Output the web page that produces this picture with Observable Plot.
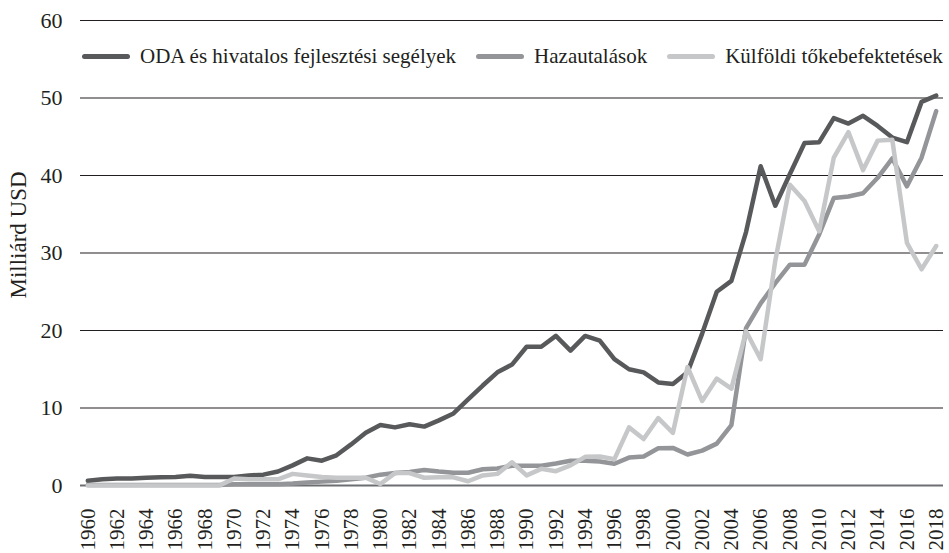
<!DOCTYPE html>
<html><head><meta charset="utf-8">
<script src="https://cdn.jsdelivr.net/npm/d3@7"></script>
<script src="https://cdn.jsdelivr.net/npm/@observablehq/plot@0.6"></script>
<style>
body{margin:0;background:#fff;}
#wrap{position:relative;width:949px;height:553px;overflow:hidden;font-family:"Liberation Serif","Times New Roman",serif;color:#231f20;}
#legend{position:absolute;left:82px;top:44px;display:flex;align-items:center;font-size:21px;line-height:24px;white-space:nowrap;}
.item{display:flex;align-items:center;margin-right:20px}
.sw{display:inline-block;width:48px;height:5px;border-radius:3px;margin-right:10px}
#ylab{position:absolute;left:19px;top:235px;font-size:23px;line-height:24px;white-space:nowrap;transform:translate(-50%,-50%) rotate(-90deg);}
</style></head><body><div id="wrap"><div id="legend"></div><div id="ylab"></div></div>
<script>
const years = [1960,1961,1962,1963,1964,1965,1966,1967,1968,1969,
  1970,1971,1972,1973,1974,1975,1976,1977,1978,1979,
  1980,1981,1982,1983,1984,1985,1986,1987,1988,1989,
  1990,1991,1992,1993,1994,1995,1996,1997,1998,1999,
  2000,2001,2002,2003,2004,2005,2006,2007,2008,2009,
  2010,2011,2012,2013,2014,2015,2016,2017,2018];
const oda = [0.6,0.8,0.9,0.9,1.0,1.05,1.1,1.25,1.1,1.1,
  1.1,1.3,1.4,1.8,2.6,3.5,3.2,3.9,5.3,6.8,
  7.8,7.5,7.9,7.6,8.4,9.3,11.1,12.9,14.6,15.6,
  17.9,17.9,19.3,17.4,19.3,18.7,16.3,15.0,14.6,13.3,
  13.1,14.6,19.6,25.0,26.4,32.7,41.2,36.1,40.2,44.2,
  44.3,47.4,46.7,47.7,46.4,44.9,44.3,49.5,50.3];
const remit = [0.05,0.05,0.05,0.05,0.05,0.05,0.05,0.05,0.05,0.05,
  0.15,0.15,0.15,0.15,0.25,0.4,0.5,0.6,0.8,1.0,
  1.4,1.6,1.75,2.0,1.8,1.65,1.65,2.1,2.2,2.55,
  2.55,2.55,2.85,3.2,3.2,3.1,2.8,3.6,3.75,4.8,
  4.85,4.0,4.5,5.4,7.8,20.3,23.5,26.1,28.5,28.5,
  32.4,37.1,37.3,37.7,39.7,42.2,38.6,42.3,48.3];
const fdi = [0,0,0,0,0,0,0,0,0,0,
  0.9,0.8,0.8,0.8,1.5,1.3,1.1,1.0,1.0,1.0,
  0.2,1.6,1.6,1.0,1.05,1.05,0.55,1.3,1.5,3.0,
  1.3,2.15,1.85,2.6,3.7,3.75,3.4,7.5,6.0,8.7,
  6.8,15.3,10.9,13.8,12.5,19.9,16.3,29.0,38.8,36.7,
  32.8,42.3,45.6,40.7,44.5,44.6,31.3,27.9,30.9];
const seriesNames = ["ODA és hivatalos fejlesztési segélyek","Hazautalások","Külföldi tőkebefektetések"];
const seriesColors = ["#58595b","#939598","#c6c7c9"];
const yTicks = [0,10,20,30,40,50,60];
const xTicks = [1960,1962,1964,1966,1968,1970,1972,1974,1976,1978,1980,1982,1984,1986,1988,
  1990,1992,1994,1996,1998,2000,2002,2004,2006,2008,2010,2012,2014,2016,2018];
const yLabel = "Milliárd USD";

const seriesValues = [oda, remit, fdi];
const rows = [];
seriesValues.forEach((vals, si) => vals.forEach((v, i) => rows.push({year: years[i], value: v, series: seriesNames[si]})));

const chart = Plot.plot({
  width: 949, height: 553,
  marginLeft: 80, marginRight: 6, marginTop: 20, marginBottom: 68,
  style: {fontFamily: "'Liberation Serif','Times New Roman',serif", fontSize: "22px", color: "#231f20", background: "white", overflow: "visible"},
  x: {domain: [1959.5, 2018.5], label: null},
  y: {domain: [0, 60], label: null},
  color: {domain: seriesNames, range: seriesColors},
  marks: [
    Plot.gridY(yTicks.filter(d => d > 0), {stroke: "#231f20", strokeOpacity: 1, strokeWidth: 1.2}),
    Plot.ruleY([0], {stroke: "#6d6e71", strokeWidth: 2}),
    Plot.axisX(xTicks, {tickFormat: d => String(d), tickRotate: -90, tickSize: 0, tickPadding: 23, fontSize: 21, label: null}),
    Plot.axisY(yTicks, {tickSize: 0, tickPadding: 18, fontSize: 22, label: null}),
    Plot.line(rows, {x: "year", y: "value", z: "series", stroke: "series", strokeWidth: 4.5, strokeLinejoin: "round", strokeLinecap: "round"})
  ]
});
document.getElementById("wrap").prepend(chart);
document.getElementById("ylab").textContent = yLabel;

const legend = document.getElementById("legend");
seriesNames.forEach((name, i) => {
  const item = document.createElement("div");
  item.className = "item";
  const sw = document.createElement("span");
  sw.className = "sw";
  sw.style.background = seriesColors[i];
  const t = document.createElement("span");
  t.textContent = name;
  item.append(sw, t);
  legend.append(item);
});
</script></body></html>
